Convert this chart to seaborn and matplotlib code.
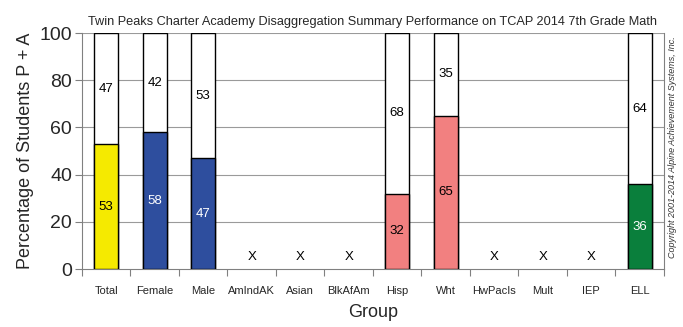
import numpy as np
import pandas as pd
import matplotlib
matplotlib.use("Agg")
import matplotlib.pyplot as plt
import seaborn as sns

groups = ["Total", "Female", "Male", "AmIndAK", "Asian", "BlkAfAm", "Hisp",
          "Wht", "HwPacIs", "Mult", "IEP", "ELL"]
pct_pa = [53, 58, 47, None, None, None, 32, 65, None, None, None, 36]
bar_colors = ["#F5EA00", "#2E4E9E", "#2E4E9E", "#FFFFFF", "#FFFFFF", "#FFFFFF",
              "#F28080", "#F28080", "#FFFFFF", "#FFFFFF", "#FFFFFF", "#0A7F3C"]
label_colors = ["black", "white", "white", "black", "black", "black",
                "black", "black", "black", "black", "black", "white"]

sns.set_theme(style="white")
plt.rcParams["font.family"] = ["Liberation Sans", "DejaVu Sans"]

df = pd.DataFrame({"Group": groups,
                   "PA": [np.nan if v is None else v for v in pct_pa]})
df["Full"] = np.where(df["PA"].isna(), np.nan, 100.0)

fig = plt.figure(figsize=(6.83, 3.27), dpi=100)
ax = fig.add_axes([0.120, 0.177, 0.852, 0.722])

for y in [20, 40, 60, 80, 100]:
    ax.axhline(y, color="#9a9a9a", lw=0.8, zorder=0)

sns.barplot(data=df, x="Group", y="Full", order=groups, color="white",
            saturation=1, edgecolor="black", linewidth=1.0, width=0.5, ax=ax, zorder=2)
sns.barplot(data=df, x="Group", y="PA", order=groups, hue="Group",
            palette=bar_colors, saturation=1, legend=False, edgecolor="black",
            linewidth=1.0, width=0.5, ax=ax, zorder=3)

for i, v in enumerate(pct_pa):
    if v is None:
        ax.text(i, 5, "X", ha="center", va="center", fontsize=9.5, color="black", zorder=5)
    else:
        ax.text(i, v / 2, f"{v}", ha="center", va="center", fontsize=9.5,
                color=label_colors[i], zorder=5)
        ax.text(i, v + (100 - v) / 2, f"{100 - v}", ha="center", va="center",
                fontsize=9.5, color="black", zorder=5)

ax.set_xlim(-0.5, len(groups) - 0.5)
ax.set_ylim(0, 100)
ax.set_yticks([0, 20, 40, 60, 80, 100])
ax.tick_params(axis="y", labelsize=14, length=5, width=0.8, color="#808080",
               direction="out", left=True, pad=2)
ax.set_xticks(range(len(groups)))
ax.set_xticklabels(groups, fontsize=8)
ax.tick_params(axis="x", which="major", length=0, pad=12)
ax.set_xticks(np.arange(-0.5, len(groups), 1.0), minor=True)
ax.tick_params(axis="x", which="minor", length=5, width=0.8, color="#808080",
               direction="out", bottom=True)

for s in ["left", "right", "bottom"]:
    ax.spines[s].set_color("#808080")
    ax.spines[s].set_linewidth(0.8)
ax.spines["top"].set_visible(False)

ax.set_xlabel("Group", fontsize=13, labelpad=6)
ax.set_ylabel("Percentage of Students P + A", fontsize=13, labelpad=4)
ax.set_title("Twin Peaks Charter Academy Disaggregation Summary Performance on TCAP 2014 7th Grade Math",
             fontsize=9.2, pad=6)

fig.text(0.985, 0.55, "Copyright 2001-2014 Alpine Achievement Systems, Inc.",
         rotation=90, fontsize=6.5, style="italic", ha="center", va="center", color="#333333")

fig.savefig("out.png", dpi=100)
